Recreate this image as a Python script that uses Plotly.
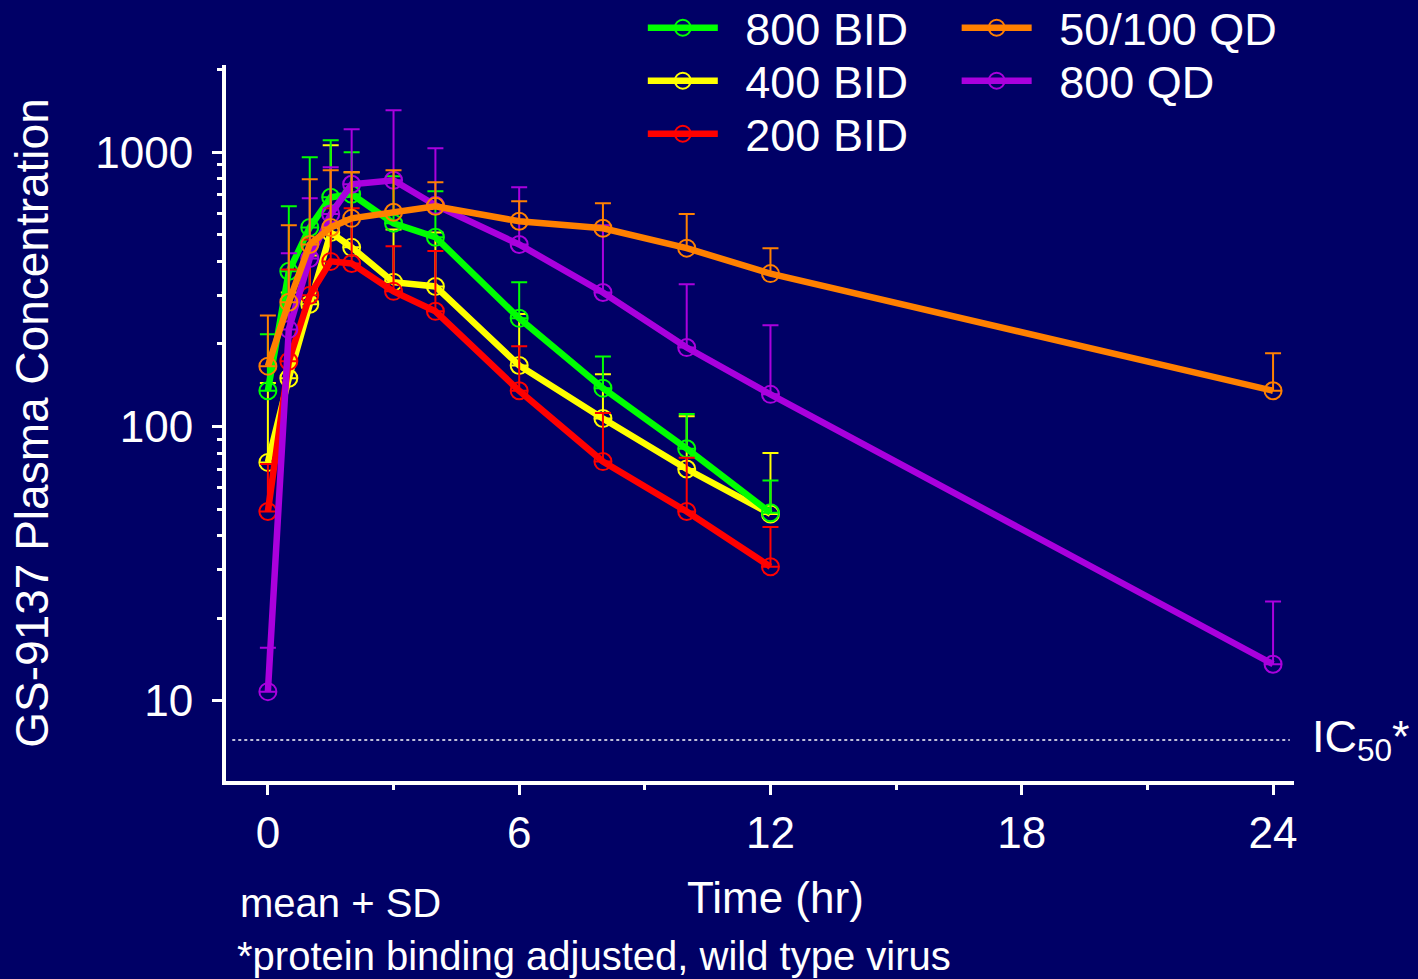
import numpy as np
import plotly.graph_objects as go

# ---------------- data ----------------
t_bid = [0, 0.5, 1, 1.5, 2, 3, 4, 6, 8, 10, 12]
t_qd = [0, 0.5, 1, 1.5, 2, 3, 4, 6, 8, 10, 12, 24]

bid800_mean = [135, 368, 532, 685, 703, 551, 490, 248, 138, 83, 48.5]
bid800_sd = [82, 267, 427, 421, 297, 266, 231, 88, 42, 28, 15]

bid400_mean = [74, 150, 279, 510, 450, 336, 324, 167, 107, 70, 48]
bid400_sd = [70, 158, 141, 550, 395, 187, 186, 90, 48, 39, 32]

bid200_mean = [49, 173, 301, 400, 393, 311, 263, 135, 74.5, 49, 30.8]
bid200_sd = [24, 201, 180, 225, 232, 143, 173, 61, 37.5, 28, 12.2]

qd50_100_mean = [166, 284, 461, 532, 574, 604, 635, 560, 528, 447, 361, 135]
qd50_100_sd = [88, 258, 336, 328, 271, 256, 143, 102, 124, 148, 86, 50]

qd800_mean = [10.8, 226, 410, 595, 764, 790, 641, 461, 308, 194, 131, 13.6]
qd800_sd = [4.8, 202, 269, 287, 449, 633, 393, 284, 234, 136, 103, 9.4]

ic50 = 7.2
ic50_x = [-0.85, 24.4]

x_ticks = [0, 6, 12, 18, 24]
x_minor = [3, 9, 15, 21]
y_ticks = [10, 100, 1000]
y_ticktext = ["10", "100", "1000"]
y_minor = [20, 30, 40, 50, 60, 70, 80, 90, 200, 300, 400, 500, 600, 700, 800, 900, 2000]

# ---------------- style ----------------
BG = "#000066"
FONT = "Liberation Sans, Arial, sans-serif"
W, H = 1418, 979
L, R, T, B = 226, 123.5, 65, 198
PW, PH = W - L - R, H - T - B


def px_x(px):
    return (px - L) / PW


def px_y(py):
    return (H - B - py) / PH


series = [
    # name, x, mean, sd, color, legend id, legend position (px)
    ("400 BID", t_bid, bid400_mean, bid400_sd, "#FFFF00", "legend2", (643, 81)),
    ("800 BID", t_bid, bid800_mean, bid800_sd, "#00FF00", "legend", (643, 28)),
    ("200 BID", t_bid, bid200_mean, bid200_sd, "#FF0000", "legend3", (643, 134)),
    ("800 QD", t_qd, qd800_mean, qd800_sd, "#AA00DD", "legend5", (957, 81)),
    ("50/100 QD", t_qd, qd50_100_mean, qd50_100_sd, "#FF8000", "legend4", (957, 28)),
]

fig = go.Figure()

fig.add_trace(go.Scatter(
    x=ic50_x, y=[ic50, ic50], mode="lines",
    line=dict(color="white", width=1.5, dash="dot"),
    showlegend=False, hoverinfo="skip",
))

legends = {}
for name, xs, mean, sd, color, leg, (lx, ly) in series:
    fig.add_trace(go.Scatter(
        x=xs, y=mean, name="\u2002" + name, mode="lines+markers",
        line=dict(color=color, width=6.5),
        marker=dict(symbol="circle-open", size=17, color=color,
                    line=dict(width=2, color=color)),
        error_y=dict(type="data", symmetric=False, array=sd,
                     arrayminus=[0] * len(sd), color=color,
                     thickness=2, width=8),
        legend=leg,
    ))
    legends[leg] = dict(
        x=px_x(lx), y=px_y(ly), xanchor="left", yanchor="middle",
        font=dict(family=FONT, size=45, color="white"),
        bgcolor="rgba(0,0,0,0)", borderwidth=0, itemwidth=70,
    )

axis_common = dict(
    showline=True, linewidth=4, linecolor="white", mirror=False,
    showgrid=False, zeroline=False,
    ticks="outside", ticklen=10, tickwidth=3, tickcolor="white",
    tickfont=dict(family=FONT, size=44, color="white"),
)

fig.update_layout(
    width=W, height=H,
    margin=dict(l=L, r=R, t=T, b=B, pad=0, autoexpand=False),
    paper_bgcolor=BG, plot_bgcolor=BG,
    font=dict(family=FONT, color="white"),
    xaxis=dict(
        range=[-1, 24.5], tickmode="array", tickvals=x_ticks,
        ticklabelstandoff=0,
        minor=dict(tickmode="array", tickvals=x_minor, ticks="outside",
                   ticklen=5, tickwidth=3, tickcolor="white", showgrid=False),
        **axis_common,
    ),
    yaxis=dict(
        type="log", range=[np.log10(5.1), np.log10(2080)],
        tickmode="array", tickvals=y_ticks, ticktext=y_ticktext,
        ticklabelstandoff=10,
        minor=dict(tickmode="array", tickvals=y_minor, ticks="outside",
                   ticklen=5, tickwidth=3, tickcolor="white", showgrid=False),
        title=dict(text="GS-9137 Plasma Concentration",
                   font=dict(family=FONT, size=46, color="white"), standoff=33),
        **axis_common,
    ),
    showlegend=True,
    **legends,
)

annots = [
    dict(text="Time (hr)", x=px_x(776), y=px_y(897), size=44, xanchor="center"),
    dict(text="mean + SD", x=px_x(238), y=px_y(903), size=40, xanchor="left"),
    dict(text="*protein binding adjusted, wild type virus", x=px_x(235),
         y=px_y(956), size=40, xanchor="left"),
]
for a in annots:
    fig.add_annotation(text=a["text"], x=a["x"], y=a["y"], xref="paper", yref="paper",
                       xanchor=a["xanchor"], yanchor="middle", showarrow=False,
                       font=dict(family=FONT, size=a["size"], color="white"))

fig.add_annotation(text="IC<sub>50</sub>*", x=px_x(1311), y=np.log10(ic50),
                   xref="paper", yref="y", xanchor="left", yanchor="middle",
                   showarrow=False, font=dict(family=FONT, size=45, color="white"))

fig.write_html("out.html")
